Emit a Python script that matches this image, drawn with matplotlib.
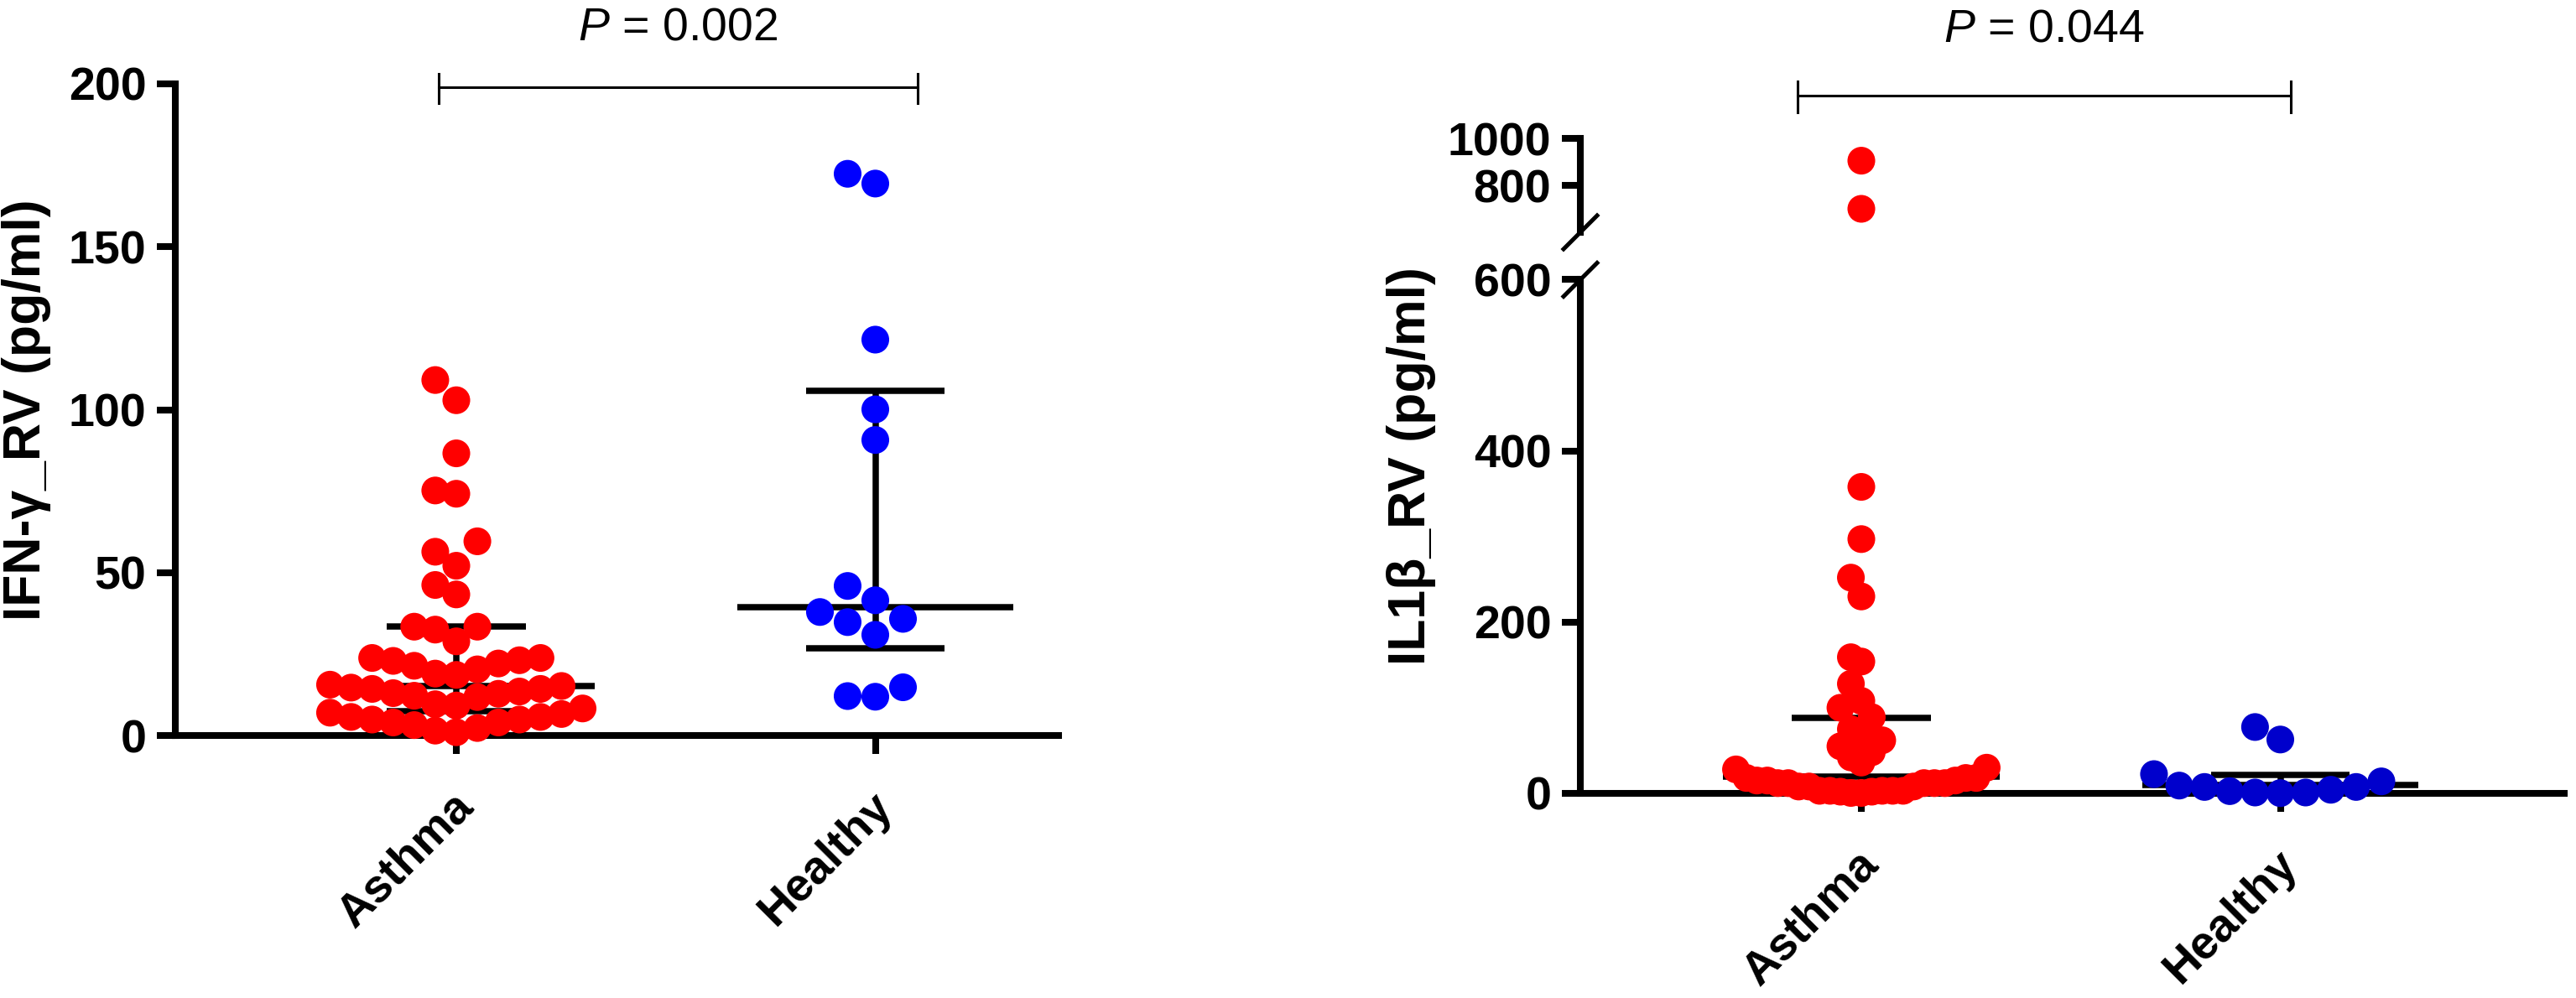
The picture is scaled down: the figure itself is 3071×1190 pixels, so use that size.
import numpy as np
import matplotlib
matplotlib.use("Agg")
import matplotlib.pyplot as plt
import matplotlib.transforms as mtransforms
from matplotlib.lines import Line2D

plt.rcParams['font.family'] = ['Liberation Sans', 'DejaVu Sans']
plt.rcParams['mathtext.fontset'] = 'custom'
plt.rcParams['mathtext.it'] = 'Liberation Sans:italic'
plt.rcParams['mathtext.rm'] = 'Liberation Sans'

# ---------------- data ----------------
categories = ['Asthma', 'Healthy']

ifn_asthma = [109.1, 102.9, 86.6, 75.2, 74.2, 59.6, 56.4, 52.1, 46.2, 43.3,
              33.4, 33.4, 32.5, 28.9, 23.1, 23.8, 23.8, 21.4, 22.1, 22.9,
              20.3, 19.0, 18.6, 15.2, 15.6, 12.2, 12.8, 13.0, 13.5, 14.7,
              11.8, 14.3, 14.3, 9.6, 9.2, 6.6, 8.3, 7.0, 4.0, 4.9,
              4.9, 5.7, 5.7, 4.0, 2.3, 1.0, 1.5, 3.2]
ifn_healthy = [172.4, 169.4, 121.5, 100.1, 90.7, 45.9, 41.5, 37.9, 34.8,
               35.8, 30.9, 14.8, 11.9, 12.1]
ifn_median = [15.2, 39.4]
ifn_q1 = [7.5, 26.7]
ifn_q3 = [33.4, 105.7]
ifn_yticks = [0, 50, 100, 150, 200]

il1b_asthma = [905, 700, 358, 297, 252, 230, 159, 154, 128, 108,
               100, 89, 75, 70, 62, 55, 48, 42, 36,
               28, 2, 8, 15, 0.5, 18, 3, 12, 3, 12, 18, 3, 15, 12, 8,
               18, 0.5, 8, 30, 3, 15, 2, 12, 3, 12]
il1b_healthy = [77.5, 62.9, 2.6, 22.5, 7.5, 14, 0.3, 9.1, 1, 4.2, 1, 7.5]
il1b_median = [20, 10]
il1b_q1 = [5, 1.5]
il1b_q3 = [88, 22]
il1b_low_ticks = [0, 200, 400, 600]
il1b_high_ticks = [800, 1000]

p_texts = ['0.002', '0.044']

# ---------------- layout (pixels) ----------------
W, H = 3071, 1190
DPI = 100
fig = plt.figure(figsize=(W / DPI, H / DPI), dpi=DPI)


def rect(left, right, top, bottom):
    return [left / W, 1 - bottom / H, (right - left) / W, (bottom - top) / H]


UNIT = 499.5          # px per category step
RED = '#FF0000'
BLUE_L = '#0000FF'
BLUE_R = '#0000CC'
MS = 23.8             # marker diameter in points
D_PX = 33.0
MAXHALF = 152.0
LW_AX = 5.8
TICK_LEN = 16
FS_TICK = 40
FS_LAB = 45

# left panel
L_left, L_right, L_top, L_bot = 209, 1262, 100, 877
L_x0 = 544
ax1 = fig.add_axes(rect(L_left, L_right, L_top, L_bot))
ax1.set_xlim((L_left - L_x0) / UNIT, (L_right - L_x0) / UNIT)
ax1.set_ylim(0, 200)

# right panel
R_left, R_right = 1884, 3057
R_x0 = 2219
axl = fig.add_axes(rect(R_left, R_right, 333.5, 946))
axu = fig.add_axes(rect(R_left, R_right, 165, 277))
for a in (axl, axu):
    a.set_xlim((R_left - R_x0) / UNIT, (R_right - R_x0) / UNIT)
axl.set_ylim(0, 600)
axu.set_ylim(600, 1000)


def style(ax, show_bottom=True):
    ax.set_facecolor('none')
    for s in ('top', 'right'):
        ax.spines[s].set_visible(False)
    ax.spines['left'].set_linewidth(LW_AX)
    ax.spines['bottom'].set_linewidth(LW_AX)
    ax.spines['left'].set_capstyle('projecting')
    ax.spines['bottom'].set_visible(show_bottom)
    ax.tick_params(axis='y', direction='out', length=TICK_LEN, width=LW_AX,
                   labelsize=FS_TICK, pad=9)
    ax.tick_params(axis='x', direction='out', length=TICK_LEN, width=LW_AX,
                   labelsize=FS_TICK, pad=26)


style(ax1)
style(axl)
style(axu, show_bottom=False)

ax1.set_yticks(ifn_yticks)
axl.set_yticks(il1b_low_ticks)
axu.set_yticks(il1b_high_ticks)
for a in (ax1, axl, axu):
    for lab in a.get_yticklabels():
        lab.set_fontweight('bold')

for a in (ax1, axl):
    a.set_xticks(range(len(categories)))
    a.set_xticklabels(categories, rotation=45, ha='right', va='top',
                      rotation_mode='anchor', fontweight='bold', fontsize=FS_TICK)
    shift = mtransforms.ScaledTranslation(-6 / DPI, 0, fig.dpi_scale_trans)
    for lab in a.get_xticklabels():
        lab.set_transform(lab.get_transform() + shift)
axu.set_xticks([])


# ---------------- swarm placement ----------------
def _place(ypx, order, s, D, maxhalf):
    kmax = int(np.floor(maxhalf / (s / 2) + 1e-9))
    cands = sorted([k * s / 2 for k in range(-kmax, kmax + 1)],
                   key=lambda v: (abs(v), v))
    xs = np.zeros(len(ypx))
    px, py = [], []
    for i in order:
        for c in cands:
            ok = True
            for a, b in zip(px, py):
                if abs(c - a) < s * 0.999 and abs(ypx[i] - b) < D * 0.95:
                    ok = False
                    break
            if ok:
                xs[i] = c
                px.append(c)
                py.append(ypx[i])
                break
        else:
            return None
    return xs


def beeswarm(ypx, D=D_PX, maxhalf=MAXHALF):
    ypx = np.asarray(ypx, float)
    order = np.argsort(ypx, kind='stable')
    s = D
    while s > 1:
        res = _place(ypx, order, s, D, maxhalf)
        if res is not None:
            return res
        s *= 0.97
    return np.zeros(len(ypx))


def ypix(ax, vals):
    return np.array([ax.transData.transform((0, v))[1] for v in vals])


def px_per_unit(ax):
    return ax.transData.transform((1, 0))[0] - ax.transData.transform((0, 0))[0]


def summary(ax, i, med, q1, q3):
    kw = dict(color='black', lw=5.4, zorder=3, solid_capstyle='butt', clip_on=False)
    ax.plot([i - 0.33, i + 0.33], [med, med], **kw)
    ax.plot([i - 0.166, i + 0.166], [q1, q1], **kw)
    ax.plot([i - 0.166, i + 0.166], [q3, q3], **kw)
    ax.plot([i, i], [q1, q3], **kw)


def dots(ax, x, y, col):
    if len(x) == 0:
        return
    ax.scatter(x, y, s=MS ** 2, color=col, edgecolors='none', zorder=5, clip_on=False)


# left panel points
for i, (vals, col) in enumerate([(ifn_asthma, RED), (ifn_healthy, BLUE_L)]):
    vals = np.array(vals)
    off = beeswarm(ypix(ax1, vals)) / px_per_unit(ax1)
    summary(ax1, i, ifn_median[i], ifn_q1[i], ifn_q3[i])
    dots(ax1, i + off, vals, col)

# right panel points
for i, (vals, col) in enumerate([(il1b_asthma, RED), (il1b_healthy, BLUE_R)]):
    vals = np.array(vals, float)
    hi = vals >= 600
    yp = np.where(hi, ypix(axu, vals), ypix(axl, vals))
    off = beeswarm(yp) / px_per_unit(axl)
    summary(axl, i, il1b_median[i], il1b_q1[i], il1b_q3[i])
    dots(axl, i + off[~hi], vals[~hi], col)
    dots(axu, i + off[hi], vals[hi], col)

# ---------------- labels ----------------
ax1.set_ylabel('IFN-γ_RV (pg/ml)', fontsize=FS_LAB, fontweight='bold')
ax1.yaxis.set_label_coords((61 - L_left) / (L_right - L_left), 0.5)
axl.set_ylabel('IL1β_RV (pg/ml)', fontsize=FS_LAB, fontweight='bold')
axl.yaxis.set_label_coords((1712 - R_left) / (R_right - R_left),
                           (946 - 555.5) / (946 - 333.5))

# ---------------- axis break marks ----------------
for yv, a in ((600, axu), (600, axl)):
    xp, yp_ = a.transData.transform((a.get_xlim()[0], yv))
    d = 20
    fig.add_artist(Line2D([(xp - d) / W, (xp + d) / W], [(yp_ - d) / H, (yp_ + d) / H],
                          transform=fig.transFigure, color='black', lw=3.6))

# ---------------- significance brackets ----------------
def bracket(ax, x0, x1, ypx_line, ytop, ybot, ptxt, ypx_text):
    tr = mtransforms.blended_transform_factory(ax.transData, fig.transFigure)
    yl = 1 - ypx_line / H
    kw = dict(transform=tr, color='black', lw=2.2, clip_on=False)
    ax.plot([x0, x1], [yl, yl], **kw)
    ax.plot([x0, x0], [1 - ytop / H, 1 - ybot / H], **kw)
    ax.plot([x1, x1], [1 - ytop / H, 1 - ybot / H], **kw)
    ax.text((x0 + x1) / 2, 1 - ypx_text / H, r'$\mathit{P}$ = ' + ptxt,
            transform=tr, ha='center', va='center', fontsize=40)


bracket(ax1, -0.043, 1.102, 104, 88, 123, p_texts[0], 33)
bracket(axu, -0.152, 1.025, 114, 97, 134, p_texts[1], 35)

fig.savefig('out.png', dpi=DPI)
